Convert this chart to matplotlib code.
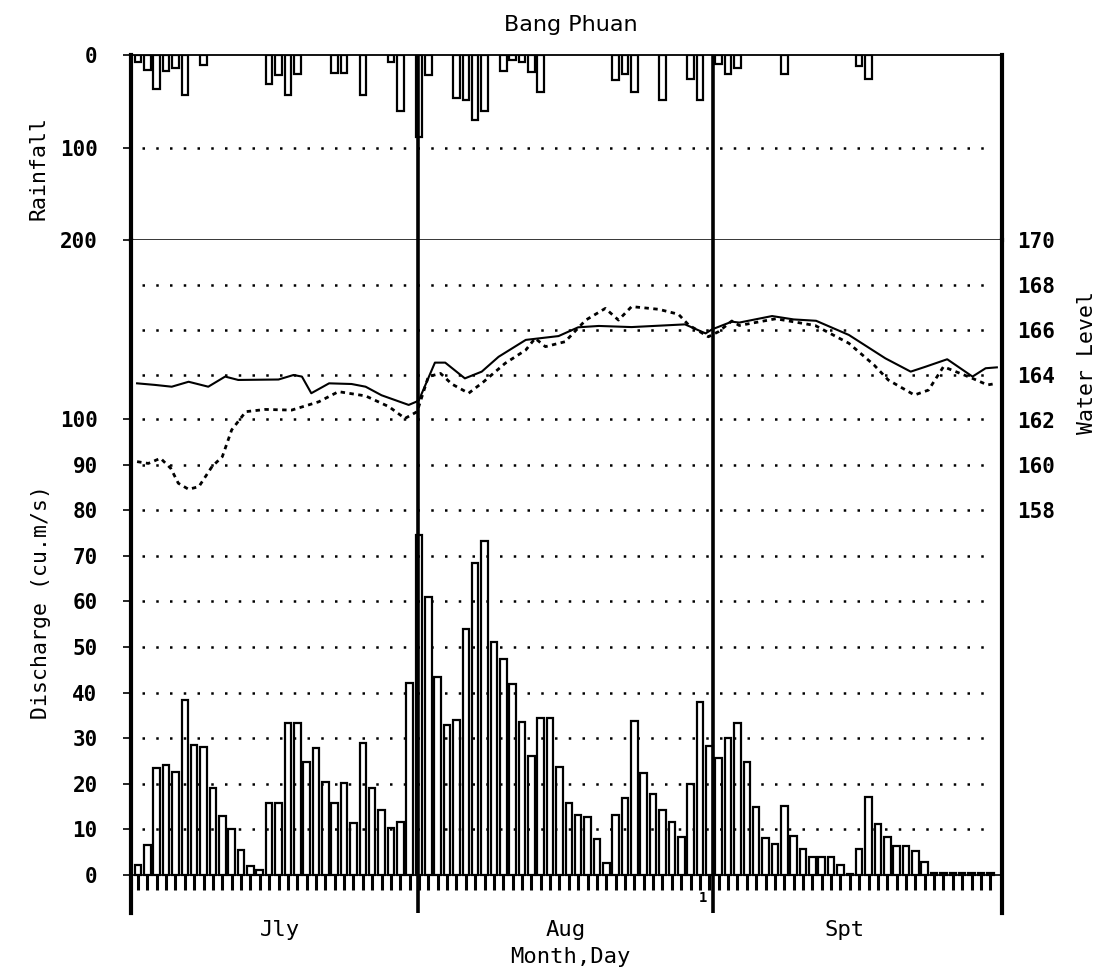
import numpy as np
import matplotlib.pyplot as plt
from matplotlib.transforms import blended_transform_factory

# Bang Phuan - daily record Jul 1 (day 1) to Sep 30 (day 92)

days = np.arange(1, 93)

# Discharge (cu.m/s), one value per day
discharge = [2.2, 6.6, 23.4, 24.1, 22.6, 38.3, 28.5, 28, 19, 13, 10, 5.5, 2, 1, 15.7, 15.7,
             33.4, 33.4, 24.8, 27.8, 20.5, 15.7, 20.2, 11.5, 29, 19, 14.2, 10.2, 11.7, 42, 74.5,
             61, 43.5, 33, 34, 54, 68.4, 73.2, 51, 47.3, 41.8, 33.6, 26, 34.5, 34.5, 23.7, 15.9,
             13.1, 12.8, 8, 2.6, 13.1, 16.8, 33.7, 22.4, 17.7, 14.2, 11.7, 8.3, 20, 38, 28.3,
             25.7, 30, 33.4, 24.7, 14.9, 8.2, 6.7, 15.1, 8.5, 5.6, 3.9, 3.9, 3.9, 2.3, 0.3, 5.6,
             17, 11.2, 8.3, 6.3, 6.3, 5.3, 2.9, 0.5, 0.5, 0.5, 0.5, 0.5, 0.5, 0.5]

# Rainfall (mm), only rainy days
rain_days = [1, 2, 3, 4, 5, 6, 8, 15, 16, 17, 18, 22, 23, 25, 28, 29, 31, 32, 35, 36, 37, 38,
             40, 41, 42, 43, 44, 52, 53, 54, 57, 60, 61, 63, 64, 65, 70, 78, 79]
rain_mm = [8, 16, 37, 17, 14, 43, 11, 31, 22, 43, 21, 19, 19, 43, 8, 60, 89, 22, 47, 49, 70, 61,
           17, 5, 8, 18, 40, 27, 20, 40, 49, 26, 49, 10, 21, 14, 21, 12, 26]

# Water level (m), solid curve
lvl_a_day = [0.9, 2.8, 4.6, 6.4, 8.5, 10.3, 11.7, 16.0, 17.6, 18.5, 19.5, 21.4, 23.8, 25.3,
             27.0, 29.9, 30.7, 31.0, 32.7, 33.8, 35.9, 37.7, 39.5, 42.4, 45.9, 48.0, 50.2,
             53.7, 59.4, 61.6, 62.3, 64.4, 65.2, 68.7, 71.0, 73.4, 76.9, 80.8, 83.5, 85.1,
             87.4, 90.1, 91.5, 92.7]
lvl_a = [163.63, 163.56, 163.48, 163.70, 163.48, 163.93, 163.78, 163.80, 164.00, 163.93,
         163.19, 163.63, 163.60, 163.48, 163.10, 162.67, 162.81, 162.89, 164.55, 164.55,
         163.85, 164.15, 164.81, 165.56, 165.73, 166.12, 166.18, 166.13, 166.25, 165.85,
         166.03, 166.37, 166.33, 166.62, 166.47, 166.41, 165.78, 164.74, 164.15, 164.37,
         164.70, 163.93, 164.30, 164.34]

# Water level (m), dotted curve
lvl_b_day = [0.9, 2.1, 3.4, 4.5, 5.3, 6.4, 7.5, 8.9, 10.0, 11.0, 12.5, 14.6, 17.4, 20.3,
             22.4, 25.3, 27.8, 29.5, 30.8, 32.0, 33.3, 34.5, 36.3, 37.9, 40.2, 42.4, 43.4,
             44.5, 46.6, 48.8, 50.9, 52.3, 53.7, 56.6, 58.7, 59.8, 61.9, 63.0, 64.4, 65.2,
             69.1, 73.3, 76.9, 79.6, 81.1, 83.9, 85.4, 87.0, 90.1, 91.7, 92.3]
lvl_b = [160.15, 160.07, 160.30, 159.85, 159.19, 158.92, 159.04, 159.93, 160.37, 161.56,
         162.37, 162.47, 162.44, 162.81, 163.26, 163.07, 162.59, 162.07, 162.37, 163.93,
         164.07, 163.60, 163.19, 163.70, 164.52, 165.11, 165.63, 165.26, 165.48, 166.44,
         166.96, 166.44, 167.04, 166.92, 166.70, 166.22, 165.70, 165.93, 166.40, 166.20,
         166.50, 166.20, 165.41, 164.44, 163.78, 163.11, 163.33, 164.37, 163.85, 163.56,
         163.60]

months = ['Jly', 'Aug', 'Spt']
month_label_x = [16.2, 46.7, 76.4]
month_ends = [30.9, 62.4]

mono = 'DejaVu Sans Mono'
plt.rcParams['font.family'] = mono

W_PX, H_PX = 1112, 968
fig = plt.figure(figsize=(W_PX / 100, H_PX / 100), dpi=100)
left, width = 131 / W_PX, 871 / W_PX
ax_r = fig.add_axes([left, 1 - 240 / H_PX, width, 185 / H_PX])
ax = fig.add_axes([left, 1 - 913 / H_PX, width, 673 / H_PX])
axw = ax.twinx()

xlo, xhi = 0.25, 93.25
dot = (0, (1, 4.5))

# ---------------- rainfall panel
ax_r.bar(rain_days, rain_mm, width=0.7, color='white', edgecolor='black', lw=1.6)
ax_r.set_xlim(xlo, xhi)
ax_r.set_ylim(200, 0)
ax_r.hlines(100, 1.4, 91.8, colors='k', linestyles=dot, lw=1.8)
for m in month_ends:
    ax_r.axvline(m, color='k', lw=2.6)
ax_r.set_xticks([])
ax_r.set_yticks([0, 100, 200])
ax_r.set_yticklabels(['0', '100', '200'], fontweight='bold', fontsize=15)
ax_r.tick_params(axis='y', direction='out', length=6, width=1.2, pad=18)
ax_r.spines['left'].set_linewidth(3)
ax_r.spines['right'].set_linewidth(3)
ax_r.spines['top'].set_linewidth(1.3)
ax_r.spines['bottom'].set_linewidth(1.1)

# ---------------- discharge + water level panel
ax.bar(days, discharge, width=0.7, color='white', edgecolor='black', lw=1.6, zorder=2)
ax.vlines(days, -3.3, 0, colors='k', lw=2.2)
ax.hlines(0, xlo, xhi, colors='k', lw=1.2)
for q in range(10, 101, 10):
    ax.hlines(q, 1.4, 91.8, colors='k', linestyles=dot, lw=1.8)
for m in month_ends:
    ax.axvline(m, color='k', lw=2.6)
ax.set_xlim(xlo, xhi)
ax.set_ylim(-8.33, 139.25)
ax.set_xticks([])
ax.set_yticks(range(0, 101, 10))
ax.set_yticklabels([str(v) for v in range(0, 101, 10)], fontweight='bold', fontsize=15)
ax.tick_params(axis='y', direction='out', length=6, width=1.2, pad=18)
ax.spines['left'].set_linewidth(3)
ax.spines['right'].set_linewidth(3)
ax.spines['top'].set_visible(False)
ax.spines['bottom'].set_visible(False)

axw.plot(lvl_a_day, lvl_a, color='k', lw=1.5)
axw.plot(lvl_b_day, lvl_b, color='k', lw=2.0, ls=(0, (1.6, 1.6)))
for lv in [164, 166, 168]:
    axw.hlines(lv, 1.4, 91.8, colors='k', linestyles=dot, lw=1.8)
axw.set_ylim(140.09, 170)
axw.set_yticks(range(158, 171, 2))
axw.set_yticklabels([str(v) for v in range(158, 171, 2)], fontweight='bold', fontsize=15)
axw.tick_params(axis='y', length=0, pad=11)
for s in axw.spines.values():
    s.set_visible(False)

# ---------------- texts
tr = blended_transform_factory(ax.transData, fig.transFigure)
for name, xm in zip(months, month_label_x):
    ax.text(xm, 1 - 930 / H_PX, name, transform=tr, ha='center', va='center', fontsize=16)
ax.text(61.3, -5.0, '1', ha='center', va='center', fontsize=10, fontweight='bold')

fig.text(571 / W_PX, 1 - 25 / H_PX, 'Bang Phuan', ha='center', va='center',
         fontsize=16, family='DejaVu Sans')
fig.text(570 / W_PX, 1 - 957 / H_PX, 'Month,Day', ha='center', va='center', fontsize=16)
fig.text(38 / W_PX, 1 - 168 / H_PX, 'Rainfall', rotation=90, ha='center', va='center',
         fontsize=15.5)
fig.text(41 / W_PX, 1 - 602 / H_PX, 'Discharge (cu.m/s)', rotation=90, ha='center',
         va='center', fontsize=15.5)
fig.text(1087 / W_PX, 1 - 363 / H_PX, 'Water Level', rotation=90, ha='center',
         va='center', fontsize=15.5)

fig.savefig('out.png', dpi=100)
